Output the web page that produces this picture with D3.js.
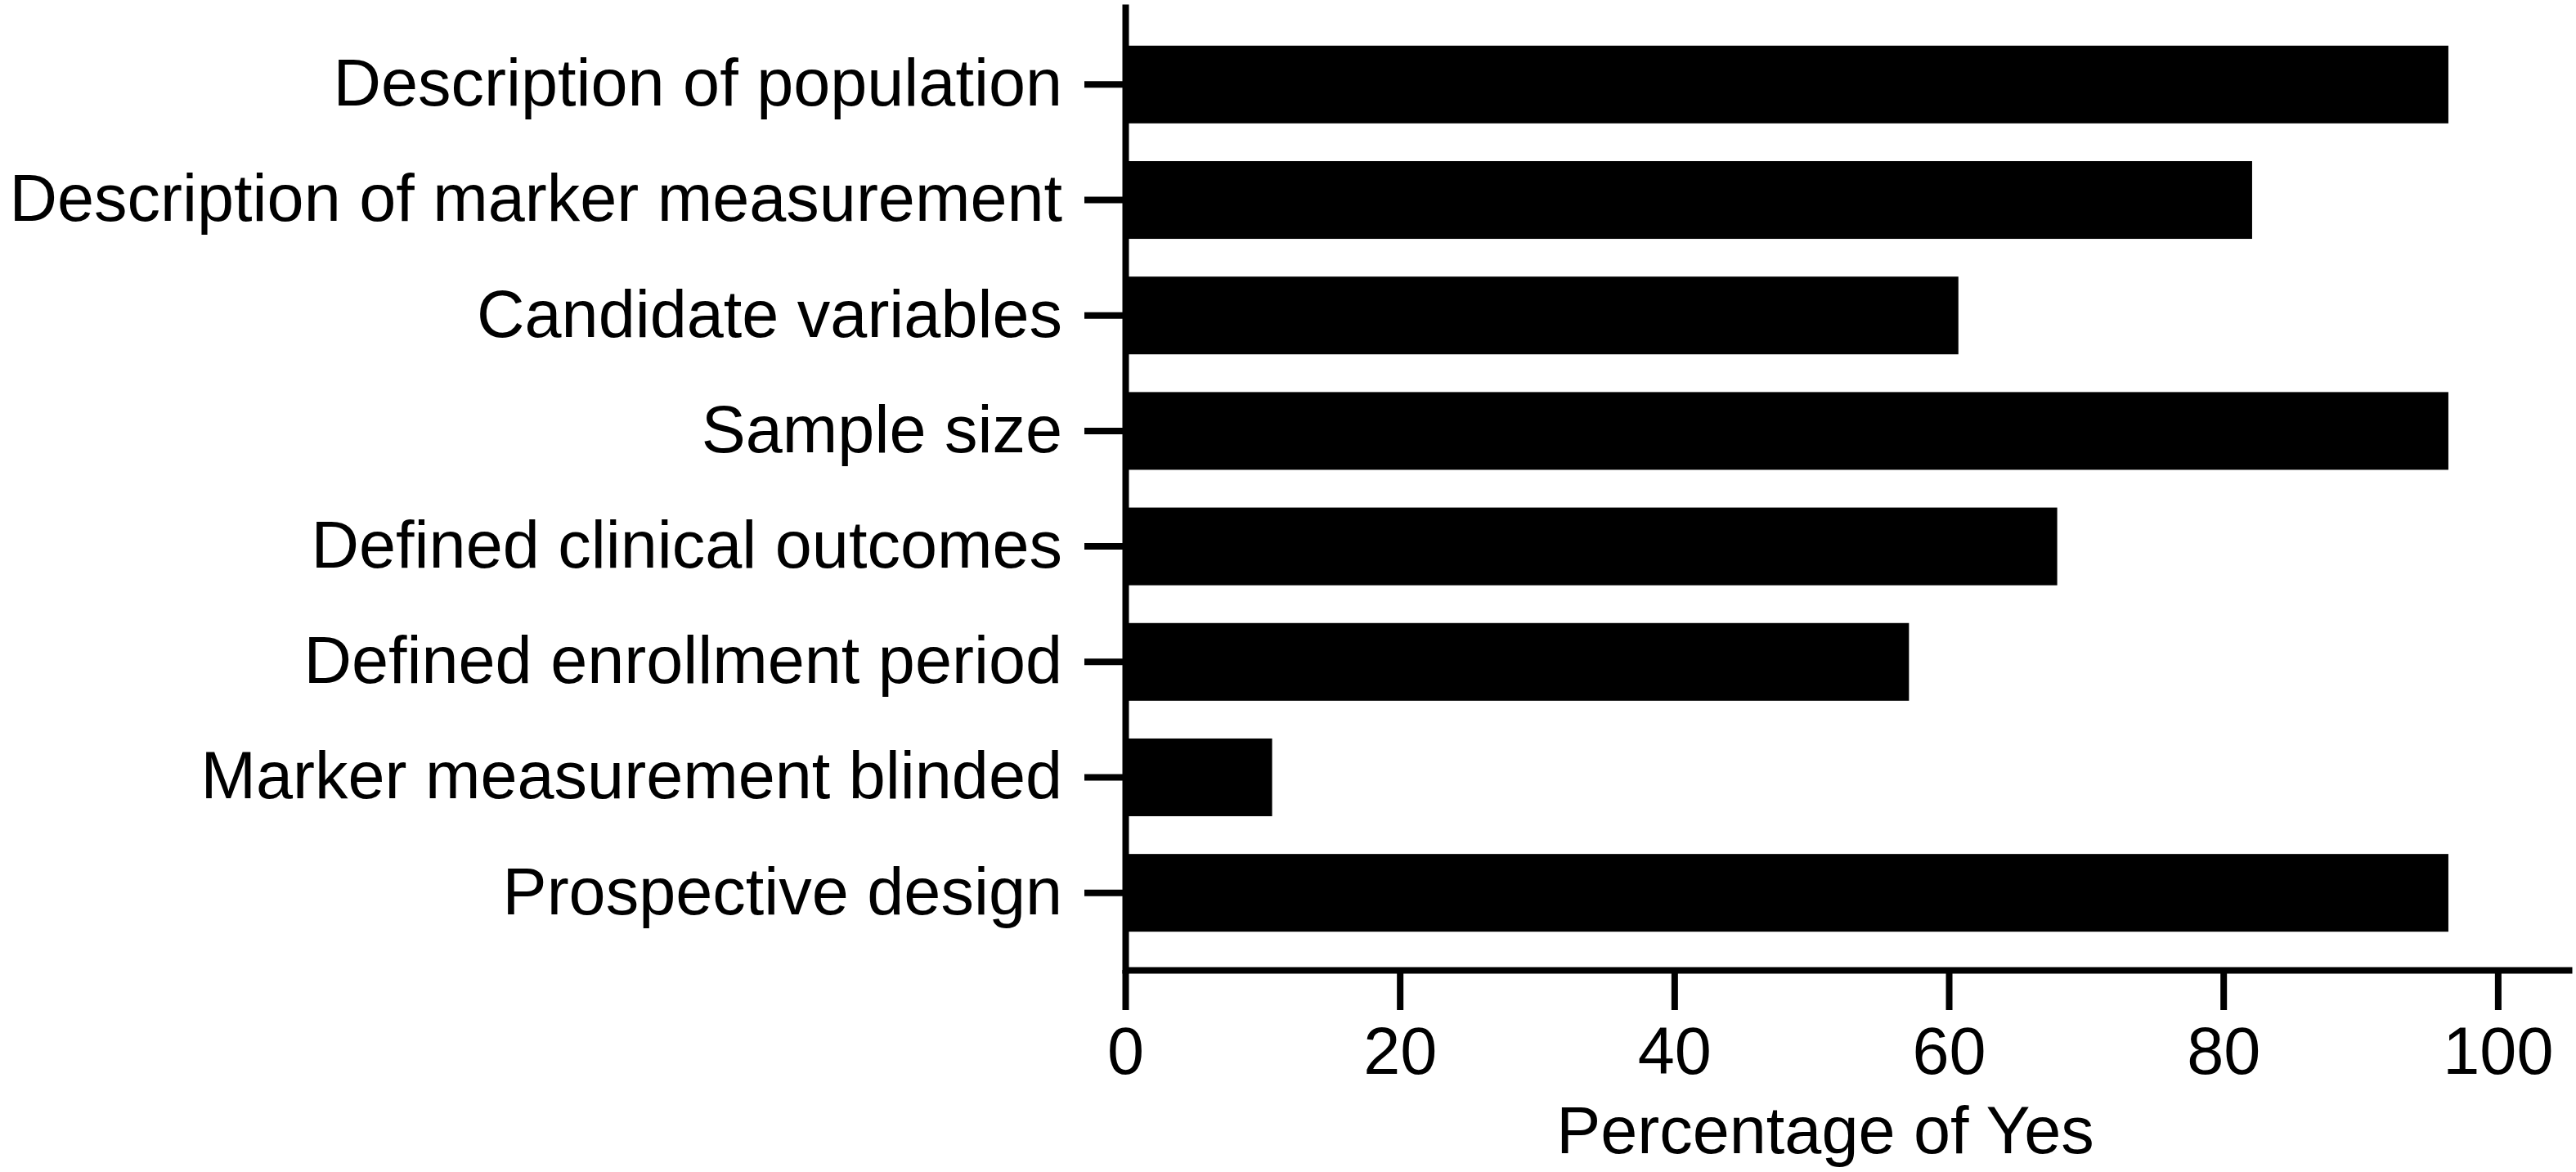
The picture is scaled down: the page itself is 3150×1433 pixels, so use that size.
<!DOCTYPE html>
<html>
<head>
<meta charset="utf-8">
<script src="https://cdn.jsdelivr.net/npm/d3@7"></script>
<style>
  body { margin: 0; background: #fff; }
  svg { display: block; }
  .axis text { font-family: "Liberation Sans", Arial, sans-serif; font-size: 81px; fill: #000; }
  .axis path, .axis line { stroke: #000; stroke-width: 8; }
</style>
</head>
<body>
<div id="chart"></div>
<script>
// Data
var categories = [
  "Description of population",
  "Description of marker measurement",
  "Candidate variables",
  "Sample size",
  "Defined clinical outcomes",
  "Defined enrollment period",
  "Marker measurement blinded",
  "Prospective design"
];
var percentYes = [96.4, 82.1, 60.7, 96.4, 67.9, 57.1, 10.7, 96.4];
var xTicks = [0, 20, 40, 60, 80, 100];
var xAxisMax = 105.4;   // x axis line runs a bit past 100
var xTitle = "Percentage of Yes";

var data = categories.map(function (c, i) { return {name: c, value: percentYes[i]}; });

var W = 3150, H = 1433;
var plotLeft = 1376, plotRight = 3145, plotTop = 5, axisY = 1186;

var svg = d3.select("#chart")
  .append("svg")
    .attr("width", W)
    .attr("height", H);

svg.append("rect").attr("width", W).attr("height", H).attr("fill", "#fff");

var xScale = d3.scaleLinear().domain([0, xAxisMax]).range([plotLeft, plotRight]);
var yScale = d3.scaleBand()
  .domain(categories)
  .range([plotTop, axisY + 4])
  .paddingInner(0.327)
  .paddingOuter(0.36);

// bars
svg.append("g").selectAll("rect")
  .data(data)
  .enter().append("rect")
    .attr("x", xScale(0))
    .attr("y", function (d) { return yScale(d.name); })
    .attr("width", function (d) { return xScale(d.value) - xScale(0); })
    .attr("height", yScale.bandwidth())
    .attr("fill", "#000");

// y axis
svg.append("g")
  .attr("class", "axis y-axis")
  .attr("transform", "translate(" + plotLeft + ",0)")
  .call(d3.axisLeft(yScale).tickSize(50).tickSizeOuter(0).tickPadding(27));

// x axis
svg.append("g")
  .attr("class", "axis x-axis")
  .attr("transform", "translate(0," + axisY + ")")
  .call(d3.axisBottom(xScale).tickValues(xTicks).tickSize(49).tickSizeOuter(0).tickPadding(20));

svg.selectAll(".axis .domain").attr("fill", "none");

// x axis title
svg.append("text")
  .attr("x", 2232)
  .attr("y", 1410)
  .attr("text-anchor", "middle")
  .style("font-family", "'Liberation Sans', Arial, sans-serif")
  .style("font-size", "81px")
  .attr("fill", "#000")
  .text(xTitle);
</script>
</body>
</html>
